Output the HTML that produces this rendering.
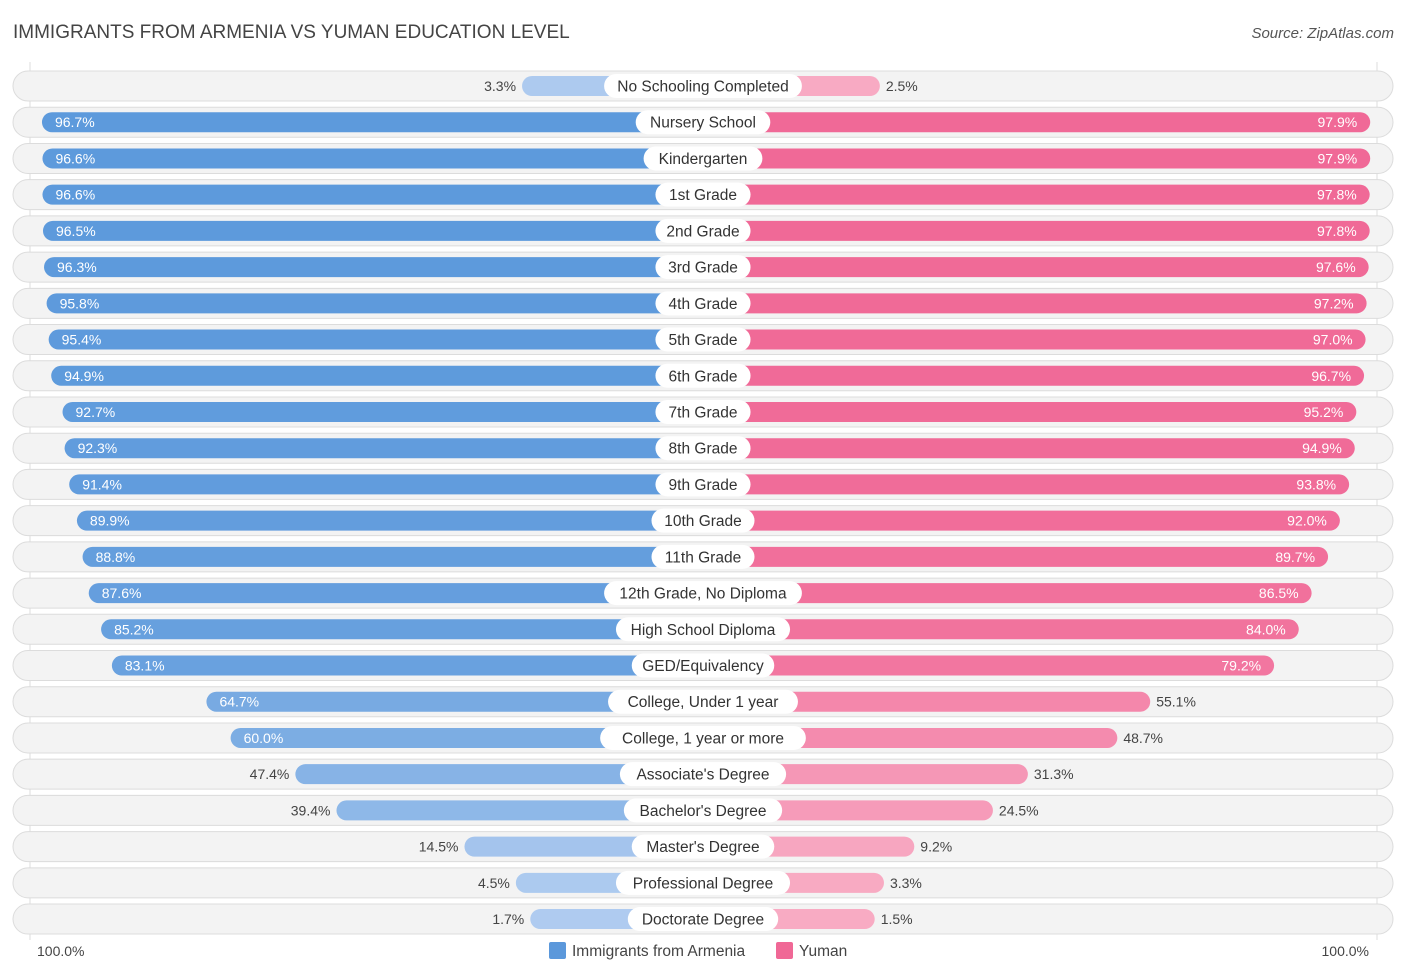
<!DOCTYPE html>
<html><head><meta charset="utf-8"><style>
body{margin:0;background:#fff;font-family:"Liberation Sans",sans-serif;}
#c{position:relative;width:1406px;height:975px;overflow:hidden;}
.t{position:absolute;white-space:nowrap;}
</style></head><body><div id="c">
<div class="t" style="left:13px;top:22px;font-size:19px;color:#444;">IMMIGRANTS FROM ARMENIA VS YUMAN EDUCATION LEVEL</div>
<div class="t" style="right:12px;top:25px;font-size:15px;color:#555;font-style:italic;">Source: ZipAtlas.com</div>
<svg id="s" width="1406" height="975" style="position:absolute;left:0;top:0"></svg>
</div>
<script>
const categories=["No Schooling Completed","Nursery School","Kindergarten","1st Grade","2nd Grade","3rd Grade","4th Grade","5th Grade","6th Grade","7th Grade","8th Grade","9th Grade","10th Grade","11th Grade","12th Grade, No Diploma","High School Diploma","GED/Equivalency","College, Under 1 year","College, 1 year or more","Associate's Degree","Bachelor's Degree","Master's Degree","Professional Degree","Doctorate Degree"];
const armenia=[3.3,96.7,96.6,96.6,96.5,96.3,95.8,95.4,94.9,92.7,92.3,91.4,89.9,88.8,87.6,85.2,83.1,64.7,60.0,47.4,39.4,14.5,4.5,1.7];
const yuman=[2.5,97.9,97.9,97.8,97.8,97.6,97.2,97.0,96.7,95.2,94.9,93.8,92.0,89.7,86.5,84.0,79.2,55.1,48.7,31.3,24.5,9.2,3.3,1.5];
const NS="http://www.w3.org/2000/svg",svg=document.getElementById('s');
const cx=703,y0=86,dy=36.22;
function len(v){return 164+5.14*v;}
function mix(a,b,t){return 'rgb('+a.map((x,i)=>Math.round(x+(b[i]-x)*t)).join(',')+')';}
function el(tag,attrs,name){const e=document.createElementNS(NS,tag);for(const k in attrs)e.setAttribute(k,attrs[k]);


svg.appendChild(e);return e;}
el('line',{x1:30,y1:62,x2:30,y2:940,stroke:'#ddd','stroke-width':1},'axis-line-left');
el('line',{x1:1377,y1:62,x2:1377,y2:940,stroke:'#ddd','stroke-width':1},'axis-line-right');
categories.forEach((c,i)=>{
 const y=y0+i*dy;
 el('rect',{x:13,y:y-15,width:1380,height:30,rx:15,fill:'#f3f3f3',stroke:'#dcdcdc','stroke-width':1},'row-background');
 const a=armenia[i],b=yuman[i];
 const la=len(a),lb=len(b);
 el('rect',{x:cx-la,y:y-10,width:la,height:20,rx:10,fill:mix([176,204,240],[90,152,219],a/100)},'bar-armenia');
 el('rect',{x:cx,y:y-10,width:lb,height:20,rx:10,fill:mix([248,172,196],[240,104,150],b/100)},'bar-yuman');
 const inA=a>57,inB=b>57;
 let t=el('text',{x:inA?cx-la+13:cx-la-6,y:y+5,'font-size':14,fill:inA?'#fff':'#444','text-anchor':inA?'start':'end'},'value-armenia');t.textContent=a.toFixed(1)+'%';
 t=el('text',{x:inB?cx+lb-13:cx+lb+6,y:y+5,'font-size':14,fill:inB?'#fff':'#444','text-anchor':inB?'end':'start'},'value-yuman');t.textContent=b.toFixed(1)+'%';
 const w=c.length*7.9+24;
 el('rect',{x:cx-w/2,y:y-12,width:w,height:24,rx:12,fill:'#fff'},'category-label-bg');
 t=el('text',{x:cx,y:y+5.5,'font-size':15.5,fill:'#333','text-anchor':'middle'},'category-label');t.textContent=c;
});
let t=el('text',{x:37,y:956,'font-size':14,fill:'#444'},'axis-label-left');t.textContent='100.0%';
t=el('text',{x:1369,y:956,'font-size':14,fill:'#444','text-anchor':'end'},'axis-label-right');t.textContent='100.0%';
el('rect',{x:549,y:942,width:17,height:17,rx:2,fill:'#5b98db'},'legend-swatch-armenia');
t=el('text',{x:572,y:956,'font-size':15.5,fill:'#444'},'legend-label-armenia');t.textContent='Immigrants from Armenia';
el('rect',{x:776,y:942,width:17,height:17,rx:2,fill:'#f06896'},'legend-swatch-yuman');
t=el('text',{x:799,y:956,'font-size':15.5,fill:'#444'},'legend-label-yuman');t.textContent='Yuman';
</script></body></html>
